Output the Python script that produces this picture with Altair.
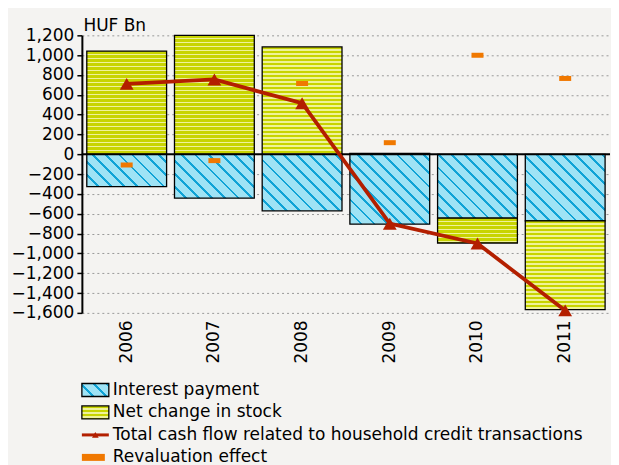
import math
import altair as alt
import pandas as pd

# ---------------- data ----------------
years = ["2006", "2007", "2008", "2009", "2010", "2011"]
interest_payment = [-326, -443, -570, -705, -645, -672]
net_change_in_stock = [1040, 1200, 1083, 10, -250, -895]
total_cash_flow = [710, 755, 515, -700, -900, -1575]
revaluation_effect = [-108, -64, 714, 117, 999, 765]

legend_labels = [
    "Interest payment",
    "Net change in stock",
    "Total cash flow related to household credit transactions",
    "Revaluation effect",
]
y_ticks = list(range(-1600, 1201, 200))

# ---------------- styling ----------------
FONT = "DejaVu Sans"
FS = 17
BG = "#f4f3f1"
CYAN_BG = "#9fe3f5"
CYAN_LINE = "#10a3d6"
YG_DARK = "#c8d400"
YG_LIGHT = "#eff29a"
RED = "#b31f00"
ORANGE = "#f07800"

Y_MIN, Y_MAX = -1600, 1200
PLOT_W, PLOT_H = 529, 278
PAD_IN, PAD_OUT = 0.09, 0.056
STEP = PLOT_W / (len(years) - PAD_IN + 2 * PAD_OUT)
BAR_W = STEP * (1 - PAD_IN)
PX_PER_UNIT = PLOT_H / (Y_MAX - Y_MIN)


def hatch(w, h, spacing=9.3, line=2.0):
    """diagonal '\\' hatch as a linear gradient in bounding-box units"""
    h = max(h, 1.0)
    span = (w + h) / math.sqrt(2)
    n = max(1.0, span / spacing)
    c = (w + h) / (w * w + h * h)
    period = 1.0 / n
    fl = line / spacing
    stops = []
    t = 0.0
    while t < 1.0 - 1e-9:
        b = min(1.0, t + period * (1 - fl))
        d = min(1.0, t + period)
        stops.append({"offset": round(t, 5), "color": CYAN_BG})
        stops.append({"offset": round(b, 5), "color": CYAN_BG})
        if b < 1.0:
            stops.append({"offset": round(b, 5), "color": CYAN_LINE})
            stops.append({"offset": round(d, 5), "color": CYAN_LINE})
        t += period
    return {"gradient": "linear", "x1": 0, "y1": 1,
            "x2": round(c * w, 5), "y2": round(1 - c * h, 5), "stops": stops}


def stripes(h, period=4.0, dark=2.5):
    """horizontal stripes as a vertical linear gradient"""
    h = max(h, 1.0)
    n = max(1.0, h / period)
    p = 1.0 / n
    fd = dark / period
    stops = []
    t = 0.0
    while t < 1.0 - 1e-9:
        b = min(1.0, t + p * fd)
        d = min(1.0, t + p)
        stops.append({"offset": round(t, 5), "color": YG_DARK})
        stops.append({"offset": round(b, 5), "color": YG_DARK})
        if b < 1.0:
            stops.append({"offset": round(b, 5), "color": YG_LIGHT})
            stops.append({"offset": round(d, 5), "color": YG_LIGHT})
        t += p
    return {"gradient": "linear", "x1": 0, "y1": 0, "x2": 0, "y2": 1, "stops": stops}


X = alt.X("year:N", sort=years,
          scale=alt.Scale(domain=years, paddingInner=PAD_IN, paddingOuter=PAD_OUT),
          axis=alt.Axis(title=None, labelAngle=270, labelFontSize=FS, labelColor="black",
                        labelFont=FONT, labelPadding=7, domain=False, ticks=False))

Y_SCALE = alt.Scale(domain=[Y_MIN, Y_MAX], nice=False, zero=False)
Y_AXIS = alt.Axis(values=y_ticks, format=",.0f", title="HUF Bn", titleAngle=0,
                  titleAlign="left", titleBaseline="alphabetic", titleX=1, titleY=-5,
                  titleFontSize=FS, titleFontWeight="normal", titleColor="black",
                  titleFont=FONT, labelFontSize=FS, labelColor="black", labelFont=FONT,
                  labelPadding=3, domainColor="black", domainWidth=2, tickColor="black",
                  tickSize=5, tickWidth=1.5, grid=True, gridColor="#9a9a9a",
                  gridDash=[2, 3], gridWidth=1)

# ---------------- bar segments ----------------
layers = []
for i, yr in enumerate(years):
    ip = interest_payment[i]
    nc = net_change_in_stock[i]
    segs = [("Interest payment", 0, ip, hatch(BAR_W, abs(ip) * PX_PER_UNIT))]
    if nc >= 0:
        segs.append(("Net change in stock", 0, nc, stripes(abs(nc) * PX_PER_UNIT)))
    else:
        segs.append(("Net change in stock", ip, ip + nc, stripes(abs(nc) * PX_PER_UNIT)))
    for name, y0, y1, grad in segs:
        df = pd.DataFrame({"year": [yr], "series": [name], "y0": [y0], "y1": [y1]})
        layers.append(
            alt.Chart(df).mark_bar(fill=grad, stroke="black", strokeWidth=1.3)
            .encode(x=X, y=alt.Y("y0:Q", scale=Y_SCALE, axis=Y_AXIS), y2="y1:Q")
        )

zero_df = pd.DataFrame({"zero": [0]})
zero_rule = alt.Chart(zero_df).mark_rule(color="black", strokeWidth=2).encode(
    y=alt.Y("zero:Q", scale=Y_SCALE, axis=Y_AXIS))

line_df = pd.DataFrame({"year": years, "total": total_cash_flow})
line = alt.Chart(line_df).mark_line(color=RED, strokeWidth=3.8).encode(
    x=X, y=alt.Y("total:Q", scale=Y_SCALE, axis=Y_AXIS))
tri = alt.Chart(line_df).mark_point(shape="triangle-up", filled=True, color=RED,
                                    size=190, opacity=1).encode(
    x=X, y=alt.Y("total:Q", scale=Y_SCALE, axis=Y_AXIS))

rev_df = pd.DataFrame({"year": years, "reval": revaluation_effect})
rev = alt.Chart(rev_df).mark_tick(color=ORANGE, thickness=5, size=12, opacity=1).encode(
    x=X, y=alt.Y("reval:Q", scale=Y_SCALE, axis=Y_AXIS))

main = alt.layer(*layers, zero_rule, rev, line, tri).properties(width=PLOT_W, height=PLOT_H)

# ---------------- legend ----------------
YL = alt.Y("label:N", sort=legend_labels, axis=None,
           scale=alt.Scale(domain=legend_labels, paddingInner=0, paddingOuter=0))
leg_df = pd.DataFrame({"label": legend_labels})

leg_text = alt.Chart(leg_df).mark_text(align="left", baseline="middle", fontSize=FS,
                                       font=FONT, color="black").encode(
    y=YL, x=alt.value(31), text="label:N")
sym_int = alt.Chart(pd.DataFrame({"label": [legend_labels[0]]})).mark_bar(
    fill=hatch(27, 13), stroke="black", strokeWidth=1.3, size=13).encode(
    y=YL, x=alt.value(0), x2=alt.value(27))
sym_net = alt.Chart(pd.DataFrame({"label": [legend_labels[1]]})).mark_bar(
    fill=stripes(13), stroke="black", strokeWidth=1.3, size=13).encode(
    y=YL, x=alt.value(0), x2=alt.value(27))
sym_line = alt.Chart(pd.DataFrame({"label": [legend_labels[2]]})).mark_rule(
    color=RED, strokeWidth=3).encode(y=YL, x=alt.value(0), x2=alt.value(27))
sym_tri = alt.Chart(pd.DataFrame({"label": [legend_labels[2]]})).mark_point(
    shape="triangle-up", filled=True, color=RED, size=45, opacity=1).encode(
    y=YL, x=alt.value(13.5))
sym_rev = alt.Chart(pd.DataFrame({"label": [legend_labels[3]]})).mark_bar(
    color=ORANGE, size=7).encode(y=YL, x=alt.value(0), x2=alt.value(23))

legend = alt.layer(sym_int, sym_net, sym_line, sym_tri, sym_rev, leg_text).properties(
    width=PLOT_W, height=90)

chart = (
    alt.vconcat(main, legend, spacing=15)
    .properties(padding={"left": 3, "top": 8, "right": 0, "bottom": 0}, background=BG)
    .configure(font=FONT)
    .configure_view(stroke=None)
)

chart.save("out.html", embed_options={"renderer": "svg", "actions": False})
